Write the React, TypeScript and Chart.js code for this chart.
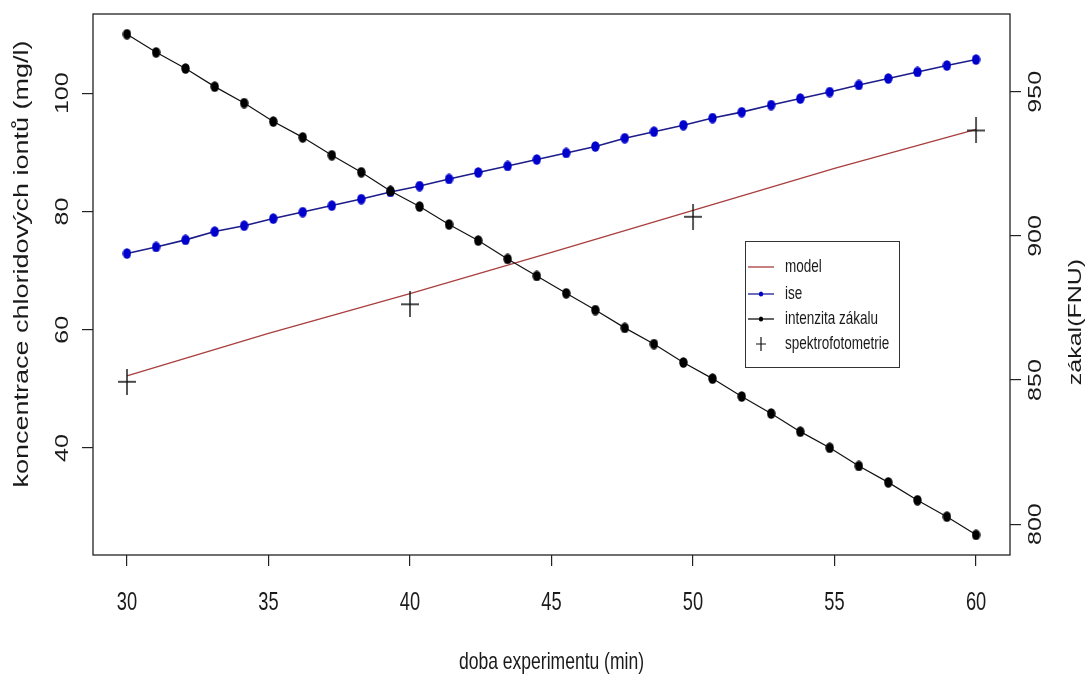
import React, { useEffect, useRef } from "react";
import { Chart, registerables } from "chart.js";

Chart.register(...registerables);

// time axis (min) – 30 equally spaced measurement times
const timeMin = [
  30, 31.03, 32.07, 33.1, 34.14, 35.17, 36.21, 37.24, 38.28, 39.31,
  40.34, 41.38, 42.41, 43.45, 44.48, 45.52, 46.55, 47.59, 48.62, 49.66,
  50.69, 51.72, 52.76, 53.79, 54.83, 55.86, 56.9, 57.93, 58.97, 60,
];

// ise – chloride concentration (mg/l), left axis
const iseValues = [
  72.9, 74.0, 75.2, 76.6, 77.6, 78.8, 79.9, 81.0, 82.1, 83.3,
  84.3, 85.5, 86.6, 87.7, 88.8, 89.9, 91.0, 92.4, 93.5, 94.6,
  95.8, 96.8, 98.0, 99.1, 100.2, 101.4, 102.5, 103.6, 104.7, 105.7,
];

// intenzita zákalu – turbidity (FNU), right axis
const zakalValues = [
  970.0, 963.7, 958.1, 951.8, 946.1, 939.7, 934.2, 928.0, 922.1, 915.6,
  910.2, 904.0, 898.4, 892.0, 886.1, 880.1, 874.3, 868.1, 862.5, 856.1,
  850.5, 844.3, 838.4, 832.1, 826.5, 820.2, 814.5, 808.3, 802.6, 796.3,
];

// model curve
const modelTime = [30, 35, 40, 45, 50, 55, 60];
const modelValues = [52.2, 59.4, 66.1, 73.1, 80.2, 87.3, 93.9];

// spektrofotometrie
const spektroTime = [30, 40, 50, 60];
const spektroValues = [51.2, 64.3, 79.1, 93.7];

// ticks and labels
const xTicks = [30, 35, 40, 45, 50, 55, 60];
const leftTicks = [40, 60, 80, 100];
const rightTicks = [800, 850, 900, 950];
const legendLabels = ["model", "ise", "intenzita zákalu", "spektrofotometrie"];
const xTitle = "doba experimentu (min)";
const leftTitle = "koncentrace chloridových iontů (mg/l)";
const rightTitle = "zákal(FNU)";

const FONT_FAMILY = '"Liberation Sans", Arial, Helvetica, sans-serif';
const SQUEEZE = 0.73;

function makeDot(color: string, w: number, h: number): HTMLCanvasElement {
  const c = document.createElement("canvas");
  c.width = w;
  c.height = h;
  const g = c.getContext("2d")!;
  g.fillStyle = color;
  g.beginPath();
  g.ellipse(w / 2, h / 2, w / 2 - 0.3, h / 2 - 0.3, 0, 0, Math.PI * 2);
  g.fill();
  return c;
}

function makeCross(w: number, h: number, lw: number): HTMLCanvasElement {
  const c = document.createElement("canvas");
  c.width = w;
  c.height = h;
  const g = c.getContext("2d")!;
  g.strokeStyle = "#111";
  g.lineWidth = lw;
  g.beginPath();
  g.moveTo(0, h / 2);
  g.lineTo(w, h / 2);
  g.moveTo(w / 2, 0);
  g.lineTo(w / 2, h);
  g.stroke();
  return c;
}

export default function App() {
  const ref = useRef<HTMLCanvasElement | null>(null);

  useEffect(() => {
    if (!ref.current) return;
    const blueDot = makeDot("#0000cd", 9, 11);
    const blackDot = makeDot("#000000", 9, 11);
    const cross = makeCross(18, 26, 1.4);

    const textPlugin = {
      id: "rtext",
      afterDraw(chart: any) {
        const ctx: CanvasRenderingContext2D = chart.ctx;
        const { left, right, top, bottom } = chart.chartArea;
        const xs = chart.scales.x;
        const ys = chart.scales.y;
        const y2 = chart.scales.y2;
        ctx.save();
        ctx.strokeStyle = "#222";
        ctx.lineWidth = 1.3;
        ctx.strokeRect(left, top, right - left, bottom - top);

        const hText = (t: string, x: number, y: number, size: number, align: CanvasTextAlign = "center") => {
          ctx.save();
          ctx.translate(x, y);
          ctx.scale(SQUEEZE, 1);
          ctx.font = `${size}px ${FONT_FAMILY}`;
          ctx.fillStyle = "#1a1a1a";
          ctx.textAlign = align;
          ctx.textBaseline = "middle";
          ctx.fillText(t, 0, 0);
          ctx.restore();
        };
        const vText = (t: string, x: number, y: number, size: number) => {
          ctx.save();
          ctx.translate(x, y);
          ctx.scale(SQUEEZE, 1);
          ctx.rotate(-Math.PI / 2);
          ctx.font = `${size}px ${FONT_FAMILY}`;
          ctx.fillStyle = "#1a1a1a";
          ctx.textAlign = "center";
          ctx.textBaseline = "middle";
          ctx.fillText(t, 0, 0);
          ctx.restore();
        };

        xTicks.forEach((v) => hText(String(v), xs.getPixelForValue(v), 603, 25));
        leftTicks.forEach((v) => vText(String(v), 63, ys.getPixelForValue(v), 25));
        rightTicks.forEach((v) => vText(String(v), 1036, y2.getPixelForValue(v), 25));
        hText(xTitle, (left + right) / 2, 662, 24);
        vText(leftTitle, 23, 264, 27);
        vText(rightTitle, 1076, 322, 25);

        // legend
        const lx = 745, ly = 241, lw = 154, lh = 126;
        ctx.fillStyle = "#ffffff";
        ctx.fillRect(lx, ly, lw, lh);
        ctx.strokeStyle = "#333";
        ctx.lineWidth = 1;
        ctx.strokeRect(lx + 0.5, ly + 0.5, lw, lh);
        const rows = [267, 294, 319, 344];
        const x0 = 748, x1 = 774, xm = 761;
        // model
        ctx.strokeStyle = "#a83e3e";
        ctx.lineWidth = 1.3;
        ctx.beginPath();
        ctx.moveTo(x0, rows[0]);
        ctx.lineTo(x1, rows[0]);
        ctx.stroke();
        // ise
        ctx.strokeStyle = "#1c1c9a";
        ctx.beginPath();
        ctx.moveTo(x0, rows[1]);
        ctx.lineTo(x1, rows[1]);
        ctx.stroke();
        ctx.fillStyle = "#0000cd";
        ctx.beginPath();
        ctx.ellipse(xm, rows[1], 2.2, 2.6, 0, 0, Math.PI * 2);
        ctx.fill();
        // zakal
        ctx.strokeStyle = "#111";
        ctx.beginPath();
        ctx.moveTo(x0, rows[2]);
        ctx.lineTo(x1, rows[2]);
        ctx.stroke();
        ctx.fillStyle = "#000";
        ctx.beginPath();
        ctx.ellipse(xm, rows[2], 2.2, 2.6, 0, 0, Math.PI * 2);
        ctx.fill();
        // cross
        ctx.strokeStyle = "#111";
        ctx.lineWidth = 1.2;
        ctx.beginPath();
        ctx.moveTo(xm - 5, rows[3]);
        ctx.lineTo(xm + 5, rows[3]);
        ctx.moveTo(xm, rows[3] - 7);
        ctx.lineTo(xm, rows[3] + 7);
        ctx.stroke();
        legendLabels.forEach((t, i) => hText(t, 785, rows[i], 18.5, "left"));
        ctx.restore();
      },
    };

    const gridOpts = {
      drawOnChartArea: false,
      drawTicks: true,
      tickLength: 11,
      color: "#222",
      lineWidth: 1.2,
    };

    const chart = new Chart(ref.current, {
      type: "line",
      data: {
        datasets: [
          {
            label: legendLabels[3],
            data: spektroTime.map((t, i) => ({ x: t, y: spektroValues[i] })),
            showLine: false,
            pointStyle: cross as any,
            pointRadius: 9,
            yAxisID: "y",
            order: 0,
          },
          {
            label: legendLabels[2],
            data: timeMin.map((t, i) => ({ x: t, y: zakalValues[i] })),
            borderColor: "#111",
            borderWidth: 1.2,
            pointStyle: blackDot as any,
            pointRadius: 5,
            yAxisID: "y2",
            order: 1,
          },
          {
            label: legendLabels[1],
            data: timeMin.map((t, i) => ({ x: t, y: iseValues[i] })),
            borderColor: "#1c1c8a",
            borderWidth: 1.6,
            pointStyle: blueDot as any,
            pointRadius: 5,
            yAxisID: "y",
            order: 2,
          },
          {
            label: legendLabels[0],
            data: modelTime.map((t, i) => ({ x: t, y: modelValues[i] })),
            borderColor: "#a83e3e",
            borderWidth: 1.3,
            pointRadius: 0,
            yAxisID: "y",
            order: 3,
          },
        ],
      },
      options: {
        animation: false,
        responsive: true,
        maintainAspectRatio: false,
        layout: { padding: { left: 82, right: 71, top: 14, bottom: 117 } },
        plugins: { legend: { display: false }, tooltip: { enabled: false } },
        scales: {
          x: {
            type: "linear",
            min: 28.8,
            max: 61.2,
            ticks: { display: false, stepSize: 5, includeBounds: false },
            grid: gridOpts,
            border: { display: false },
          },
          y: {
            type: "linear",
            position: "left",
            min: 21.9,
            max: 113.4,
            ticks: { display: false, stepSize: 20, includeBounds: false },
            grid: gridOpts,
            border: { display: false },
          },
          y2: {
            type: "linear",
            position: "right",
            min: 789.3,
            max: 977,
            ticks: { display: false, stepSize: 50, includeBounds: false },
            grid: gridOpts,
            border: { display: false },
          },
        },
      },
      plugins: [textPlugin],
    });
    return () => chart.destroy();
  }, []);

  return (
    <div style={{ position: "fixed", left: 0, top: 0, width: 1092, height: 683, background: "#fff" }}>
      <canvas ref={ref} />
    </div>
  );
}
